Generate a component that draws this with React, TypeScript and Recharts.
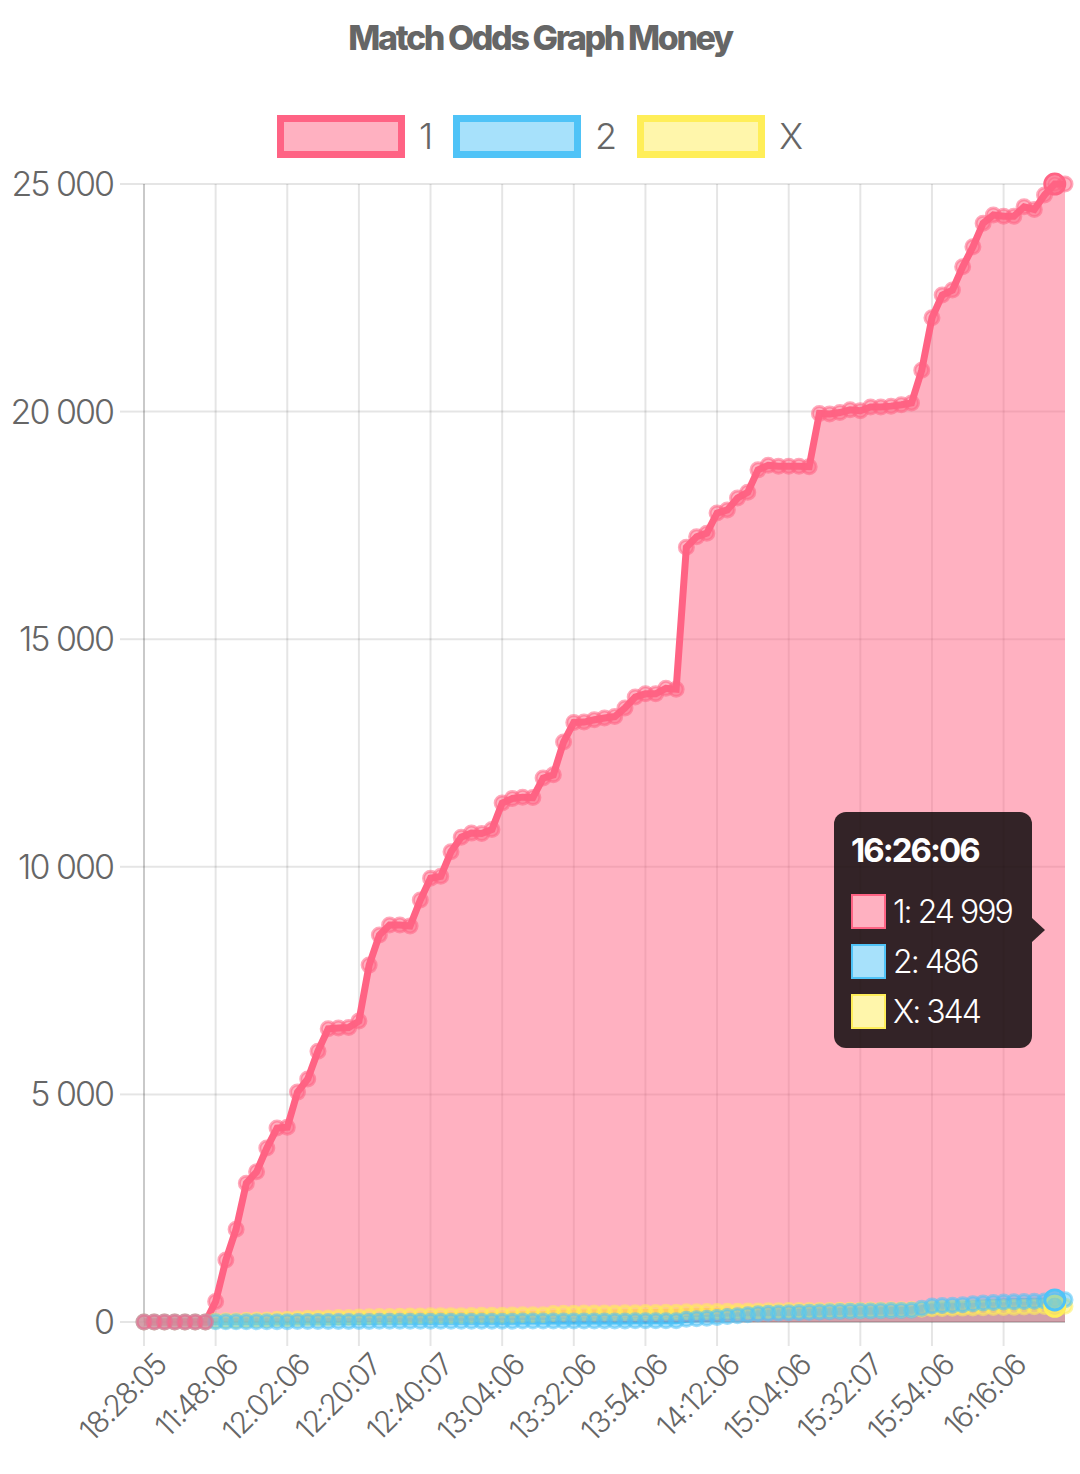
import { Area, AreaChart, CartesianGrid, Tooltip, XAxis, YAxis } from "recharts";

const times = [
  "18:28:05", "11:36:06", "11:38:06", "11:40:06", "11:42:06", "11:44:06", "11:46:06",
  "11:48:06", "11:50:06", "11:52:06", "11:54:06", "11:56:06", "11:58:06", "12:00:06",
  "12:02:06", "12:04:06", "12:06:06", "12:10:06", "12:12:06", "12:16:06", "12:18:06",
  "12:20:07", "12:22:07", "12:24:06", "12:28:06", "12:32:06", "12:36:06", "12:38:06",
  "12:40:07", "12:42:06", "12:46:06", "12:50:06", "12:54:06", "12:58:06", "13:02:06",
  "13:04:06", "13:08:06", "13:12:06", "13:16:06", "13:20:06", "13:24:06", "13:28:06",
  "13:32:06", "13:36:06", "13:40:06", "13:42:06", "13:46:06", "13:48:06", "13:52:06",
  "13:54:06", "13:56:06", "13:58:06", "14:02:06", "14:04:06", "14:08:06", "14:10:06",
  "14:12:06", "14:20:06", "14:28:06", "14:36:06", "14:44:06", "14:52:06", "15:00:06",
  "15:04:06", "15:08:06", "15:12:06", "15:16:06", "15:20:06", "15:24:06", "15:28:06",
  "15:32:07", "15:34:06", "15:38:06", "15:42:06", "15:46:06", "15:48:06", "15:52:06",
  "15:54:06", "15:56:06", "16:00:06", "16:04:06", "16:08:06", "16:10:06", "16:14:06",
  "16:16:06", "16:18:06", "16:20:06", "16:22:06", "16:24:06", "16:26:06", "16:28:06",
];

const seriesOne = [
  0, 0, 0, 0, 0, 0, 0, 450, 1360, 2040,
  3050, 3300, 3820, 4260, 4280, 5050, 5340, 5950, 6440, 6460,
  6470, 6610, 7840, 8500, 8720, 8720, 8700, 9270, 9750, 9790,
  10330, 10650, 10740, 10730, 10820, 11400, 11500, 11530, 11520, 11950,
  12020, 12740, 13170, 13180, 13230, 13270, 13300, 13490, 13730, 13800,
  13800, 13920, 13900, 17020, 17250, 17330, 17770, 17840, 18100, 18230,
  18720, 18820, 18800, 18800, 18800, 18790, 19960, 19950, 19980, 20040,
  20020, 20100, 20100, 20120, 20150, 20190, 20910, 22060, 22560, 22670,
  23180, 23620, 24140, 24320, 24290, 24290, 24500, 24440, 24760, 24999,
  25000,
];

const seriesTwo = [
  0, 0, 0, 0, 0, 0, 0, 5, 5, 5,
  5, 5, 8, 8, 8, 10, 10, 10, 10, 12,
  12, 12, 12, 14, 14, 14, 15, 15, 15, 15,
  16, 16, 16, 18, 18, 18, 18, 20, 20, 20,
  20, 22, 22, 22, 22, 24, 24, 24, 25, 25,
  25, 25, 28, 60, 70, 80, 100, 120, 140, 160,
  180, 190, 200, 205, 210, 215, 220, 225, 230, 235,
  240, 240, 245, 250, 255, 260, 300, 350, 360, 370,
  380, 400, 420, 430, 440, 445, 450, 455, 460, 486,
  490,
];

const seriesX = [
  0, 0, 0, 0, 0, 0, 0, 20, 30, 30,
  40, 45, 45, 60, 60, 70, 80, 80, 90, 100,
  100, 110, 115, 120, 120, 125, 130, 130, 135, 140,
  140, 140, 145, 150, 150, 150, 155, 160, 160, 160,
  185, 190, 190, 195, 195, 200, 200, 205, 205, 210,
  210, 215, 215, 225, 225, 230, 230, 235, 235, 240,
  240, 245, 245, 250, 250, 250, 255, 255, 260, 260,
  260, 265, 265, 270, 270, 275, 280, 290, 295, 300,
  305, 310, 315, 320, 320, 325, 330, 335, 340, 344,
  345,
];

const yTicks = [0, 5000, 10000, 15000, 20000, 25000];
const labelEvery = 7;
const hoverIndex = 89;

const series = [
  { key: "one", name: "1", stroke: "#ff6384", fill: "rgba(255,99,132,0.5)" },
  { key: "two", name: "2", stroke: "#4fc3f7", fill: "rgba(79,195,247,0.5)" },
  { key: "x", name: "X", stroke: "#ffee58", fill: "rgba(255,238,88,0.5)" },
];

const data = times.map((time, i) => ({
  time,
  one: seriesOne[i],
  two: seriesTwo[i],
  x: seriesX[i],
}));

const fmt = (v: number) => String(v).replace(/\B(?=(\d{3})+(?!\d))/g, " ");

const font = "Inter, 'Noto Sans', sans-serif";
const gridColor = "rgba(0,0,0,0.1)";

const XTick = ({ x, y, payload }: any) => (
  <g transform={`translate(${x + 24},${y + 19})`}>
    <text
      textAnchor="end"
      transform="rotate(-45)"
      fill="#666"
      fontSize={30}
      fontWeight={300}
      fontFamily={font}
      letterSpacing={-1.6}
    >
      {payload.value}
    </text>
  </g>
);

const TooltipBox = ({ active, payload, label }: any) => {
  if (!active || !payload || !payload.length) return null;
  const rows = series.map((s) => {
    const p = payload.find((e: any) => e.dataKey === s.key);
    return { ...s, value: p ? p.value : 0 };
  });
  return (
    <div
      style={{
        position: "relative",
        width: 198,
        height: 236,
        boxSizing: "border-box",
        background: "rgba(0,0,0,0.8)",
        borderRadius: 12,
        padding: "18px 17px",
        fontFamily: font,
        color: "#fff",
      }}
    >
      <div style={{ fontWeight: 700, fontSize: 33, letterSpacing: -2, lineHeight: "40px", marginBottom: 16 }}>
        {label}
      </div>
      {rows.map((r) => (
        <div key={r.key} style={{ display: "flex", alignItems: "center", height: 50 }}>
          <div
            style={{
              width: 35,
              height: 35,
              boxSizing: "border-box",
              background: "#fff",
              marginRight: 7,
              position: "relative",
            }}
          >
            <div
              style={{
                position: "absolute",
                inset: 0,
                background: r.fill,
                border: `2px solid ${r.stroke}`,
              }}
            />
          </div>
          <span style={{ fontSize: 32, letterSpacing: -2, fontWeight: 300 }}>
            {r.name}: {fmt(r.value)}
          </span>
        </div>
      ))}
      <div
        style={{
          position: "absolute",
          right: -13,
          top: 106,
          width: 0,
          height: 0,
          borderTop: "12px solid transparent",
          borderBottom: "12px solid transparent",
          borderLeft: "13px solid rgba(0,0,0,0.8)",
        }}
      />
    </div>
  );
};

const App = () => {
  return (
    <div style={{ position: "absolute", left: 0, top: 0, width: 1080, height: 1474, background: "#fff" }}>
      <div
        style={{
          position: "absolute",
          top: 16,
          left: 0,
          width: 1080,
          textAlign: "center",
          fontFamily: font,
          fontWeight: 800,
          fontSize: 34,
          letterSpacing: -2.4,
          color: "#666",
          lineHeight: "44px",
        }}
      >
        Match Odds Graph Money
      </div>
      <div
        style={{
          position: "absolute",
          top: 115,
          left: 0,
          width: 1080,
          display: "flex",
          justifyContent: "center",
          fontFamily: font,
          zIndex: 2,
        }}
      >
        {series.map((s) => (
          <div key={s.key} style={{ display: "flex", alignItems: "center", margin: "0 10px" }}>
            <div
              style={{
                width: 128,
                height: 43,
                boxSizing: "border-box",
                border: `7px solid ${s.stroke}`,
                background: s.fill,
                marginRight: 14,
              }}
            />
            <span style={{ fontSize: 36, color: "#666", lineHeight: "43px", fontWeight: 300 }}>{s.name}</span>
          </div>
        ))}
      </div>
      <AreaChart
        width={1080}
        height={1474}
        data={data}
        margin={{ top: 184, right: 15, bottom: 0, left: 0 }}
      >
        <CartesianGrid syncWithTicks stroke={gridColor} strokeWidth={2} />
        <XAxis
          dataKey="time"
          interval={labelEvery - 1}
          height={152}
          tickSize={24}
          tickLine={{ stroke: gridColor, strokeWidth: 2 }}
          axisLine={{ stroke: "rgba(0,0,0,0.12)", strokeWidth: 2 }}
          tick={<XTick />}
        />
        <YAxis
          width={144}
          domain={[0, 25000]}
          ticks={yTicks}
          interval={0}
          tickSize={24}
          tickMargin={7}
          tickFormatter={fmt}
          tickLine={{ stroke: gridColor, strokeWidth: 2 }}
          axisLine={{ stroke: "rgba(0,0,0,0.12)", strokeWidth: 2 }}
          tick={{ fill: "#666", fontSize: 34, fontWeight: 300, fontFamily: font, letterSpacing: -2 }}
        />
        {/* first series drawn last so it sits on top, like the original */}
        {[...series].reverse().map((s) => (
          <Area
            key={s.key}
            type="linear"
            dataKey={s.key}
            name={s.name}
            stroke={s.stroke}
            strokeWidth={7}
            fill={s.fill}
            fillOpacity={1}
            dot={{ r: 7, strokeWidth: 3, stroke: s.stroke, fill: s.fill, strokeOpacity: 0.55 }}
            activeDot={{ r: 10, strokeWidth: 3, stroke: s.stroke, fill: s.fill }}
            isAnimationActive={false}
          />
        ))}
        <Tooltip
          active
          defaultIndex={hoverIndex}
          cursor={false}
          isAnimationActive={false}
          position={{ x: 834, y: 812 }}
          content={<TooltipBox />}
          wrapperStyle={{ outline: "none" }}
        />
      </AreaChart>
    </div>
  );
};

export default App;
